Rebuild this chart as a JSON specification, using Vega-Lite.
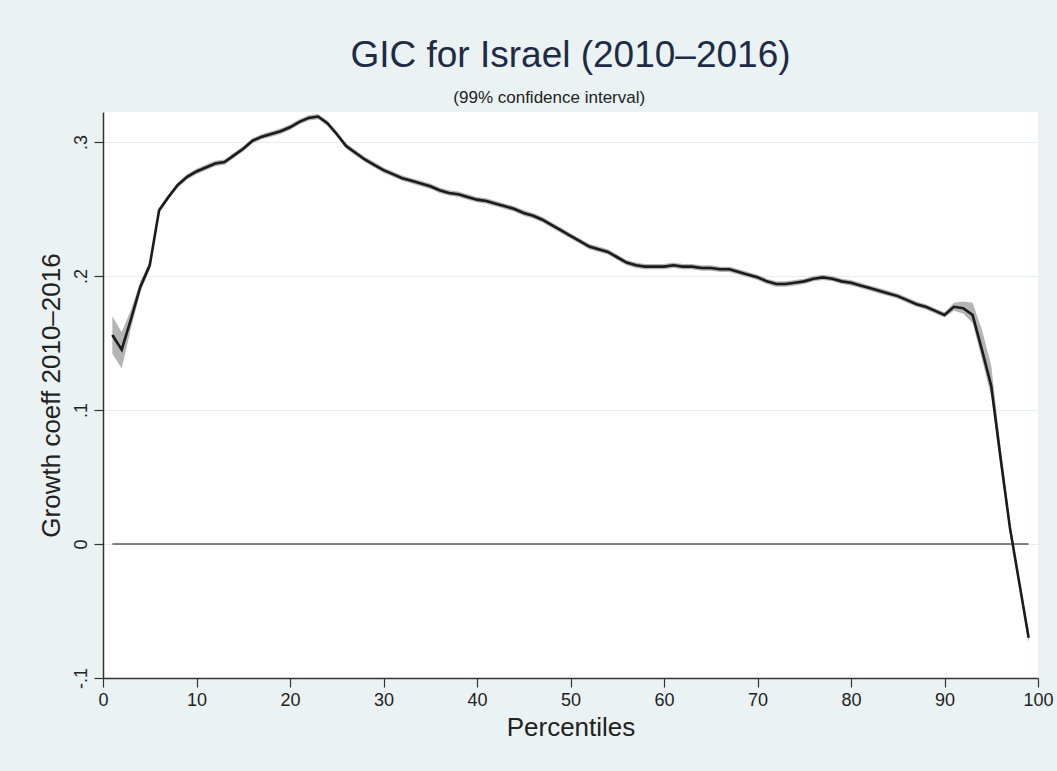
{
  "$schema": "https://vega.github.io/schema/vega-lite/v6.json",
  "width": 935,
  "height": 566,
  "autosize": "none",
  "padding": {"left": 103, "top": 112, "right": 19, "bottom": 93},
  "background": "#eaf2f3",
  "view": {"fill": "white", "stroke": null},
  "config": {"font": "Liberation Sans"},
  "title": {
    "text": "GIC for Israel (2010–2016)",
    "subtitle": "(99% confidence interval)\u00a0\u00a0\u00a0\u00a0\u00a0\u00a0\u00a0\u00a0\u00a0\u200d",
    "anchor": "middle",
    "font": "Liberation Sans",
    "fontSize": 37,
    "fontWeight": "normal",
    "color": "#1e2b45",
    "subtitleFont": "Liberation Sans",
    "subtitleFontSize": 17,
    "subtitleColor": "#222222",
    "subtitlePadding": 15,
    "offset": 4
  },
  "data": {
    "values": [
      {"p": 1, "v": 0.156, "lo": 0.142, "hi": 0.170},
      {"p": 2, "v": 0.145, "lo": 0.131, "hi": 0.158},
      {"p": 3, "v": 0.168, "lo": 0.161, "hi": 0.175},
      {"p": 4, "v": 0.192, "lo": 0.188, "hi": 0.196},
      {"p": 5, "v": 0.208, "lo": 0.205, "hi": 0.211},
      {"p": 6, "v": 0.249, "lo": 0.247, "hi": 0.251},
      {"p": 7, "v": 0.259, "lo": 0.257, "hi": 0.261},
      {"p": 8, "v": 0.268, "lo": 0.266, "hi": 0.270},
      {"p": 9, "v": 0.274, "lo": 0.272, "hi": 0.276},
      {"p": 10, "v": 0.278, "lo": 0.276, "hi": 0.280},
      {"p": 11, "v": 0.281, "lo": 0.279, "hi": 0.283},
      {"p": 12, "v": 0.284, "lo": 0.282, "hi": 0.286},
      {"p": 13, "v": 0.285, "lo": 0.283, "hi": 0.287},
      {"p": 14, "v": 0.290, "lo": 0.288, "hi": 0.292},
      {"p": 15, "v": 0.295, "lo": 0.293, "hi": 0.297},
      {"p": 16, "v": 0.301, "lo": 0.299, "hi": 0.303},
      {"p": 17, "v": 0.304, "lo": 0.302, "hi": 0.306},
      {"p": 18, "v": 0.306, "lo": 0.304, "hi": 0.308},
      {"p": 19, "v": 0.308, "lo": 0.306, "hi": 0.310},
      {"p": 20, "v": 0.311, "lo": 0.309, "hi": 0.313},
      {"p": 21, "v": 0.315, "lo": 0.313, "hi": 0.317},
      {"p": 22, "v": 0.318, "lo": 0.316, "hi": 0.320},
      {"p": 23, "v": 0.319, "lo": 0.317, "hi": 0.321},
      {"p": 24, "v": 0.314, "lo": 0.312, "hi": 0.316},
      {"p": 25, "v": 0.306, "lo": 0.304, "hi": 0.308},
      {"p": 26, "v": 0.297, "lo": 0.295, "hi": 0.299},
      {"p": 27, "v": 0.292, "lo": 0.290, "hi": 0.294},
      {"p": 28, "v": 0.287, "lo": 0.285, "hi": 0.289},
      {"p": 29, "v": 0.283, "lo": 0.281, "hi": 0.285},
      {"p": 30, "v": 0.279, "lo": 0.277, "hi": 0.281},
      {"p": 31, "v": 0.276, "lo": 0.274, "hi": 0.278},
      {"p": 32, "v": 0.273, "lo": 0.271, "hi": 0.275},
      {"p": 33, "v": 0.271, "lo": 0.269, "hi": 0.273},
      {"p": 34, "v": 0.269, "lo": 0.267, "hi": 0.271},
      {"p": 35, "v": 0.267, "lo": 0.265, "hi": 0.269},
      {"p": 36, "v": 0.264, "lo": 0.262, "hi": 0.266},
      {"p": 37, "v": 0.262, "lo": 0.260, "hi": 0.264},
      {"p": 38, "v": 0.261, "lo": 0.259, "hi": 0.263},
      {"p": 39, "v": 0.259, "lo": 0.257, "hi": 0.261},
      {"p": 40, "v": 0.257, "lo": 0.255, "hi": 0.259},
      {"p": 41, "v": 0.256, "lo": 0.254, "hi": 0.258},
      {"p": 42, "v": 0.254, "lo": 0.252, "hi": 0.256},
      {"p": 43, "v": 0.252, "lo": 0.250, "hi": 0.254},
      {"p": 44, "v": 0.250, "lo": 0.248, "hi": 0.252},
      {"p": 45, "v": 0.247, "lo": 0.245, "hi": 0.249},
      {"p": 46, "v": 0.245, "lo": 0.243, "hi": 0.247},
      {"p": 47, "v": 0.242, "lo": 0.240, "hi": 0.244},
      {"p": 48, "v": 0.238, "lo": 0.236, "hi": 0.240},
      {"p": 49, "v": 0.234, "lo": 0.232, "hi": 0.236},
      {"p": 50, "v": 0.230, "lo": 0.228, "hi": 0.232},
      {"p": 51, "v": 0.226, "lo": 0.224, "hi": 0.228},
      {"p": 52, "v": 0.222, "lo": 0.220, "hi": 0.224},
      {"p": 53, "v": 0.220, "lo": 0.218, "hi": 0.222},
      {"p": 54, "v": 0.218, "lo": 0.216, "hi": 0.220},
      {"p": 55, "v": 0.214, "lo": 0.212, "hi": 0.216},
      {"p": 56, "v": 0.210, "lo": 0.208, "hi": 0.212},
      {"p": 57, "v": 0.208, "lo": 0.206, "hi": 0.210},
      {"p": 58, "v": 0.207, "lo": 0.205, "hi": 0.209},
      {"p": 59, "v": 0.207, "lo": 0.205, "hi": 0.209},
      {"p": 60, "v": 0.207, "lo": 0.205, "hi": 0.209},
      {"p": 61, "v": 0.208, "lo": 0.206, "hi": 0.210},
      {"p": 62, "v": 0.207, "lo": 0.205, "hi": 0.209},
      {"p": 63, "v": 0.207, "lo": 0.205, "hi": 0.209},
      {"p": 64, "v": 0.206, "lo": 0.204, "hi": 0.208},
      {"p": 65, "v": 0.206, "lo": 0.204, "hi": 0.208},
      {"p": 66, "v": 0.205, "lo": 0.203, "hi": 0.207},
      {"p": 67, "v": 0.205, "lo": 0.203, "hi": 0.207},
      {"p": 68, "v": 0.203, "lo": 0.201, "hi": 0.205},
      {"p": 69, "v": 0.201, "lo": 0.199, "hi": 0.203},
      {"p": 70, "v": 0.199, "lo": 0.197, "hi": 0.201},
      {"p": 71, "v": 0.196, "lo": 0.194, "hi": 0.198},
      {"p": 72, "v": 0.194, "lo": 0.192, "hi": 0.196},
      {"p": 73, "v": 0.194, "lo": 0.192, "hi": 0.196},
      {"p": 74, "v": 0.195, "lo": 0.193, "hi": 0.197},
      {"p": 75, "v": 0.196, "lo": 0.194, "hi": 0.198},
      {"p": 76, "v": 0.198, "lo": 0.196, "hi": 0.200},
      {"p": 77, "v": 0.199, "lo": 0.197, "hi": 0.201},
      {"p": 78, "v": 0.198, "lo": 0.196, "hi": 0.200},
      {"p": 79, "v": 0.196, "lo": 0.194, "hi": 0.198},
      {"p": 80, "v": 0.195, "lo": 0.193, "hi": 0.197},
      {"p": 81, "v": 0.193, "lo": 0.191, "hi": 0.195},
      {"p": 82, "v": 0.191, "lo": 0.189, "hi": 0.193},
      {"p": 83, "v": 0.189, "lo": 0.187, "hi": 0.191},
      {"p": 84, "v": 0.187, "lo": 0.185, "hi": 0.189},
      {"p": 85, "v": 0.185, "lo": 0.183, "hi": 0.187},
      {"p": 86, "v": 0.182, "lo": 0.180, "hi": 0.184},
      {"p": 87, "v": 0.179, "lo": 0.177, "hi": 0.181},
      {"p": 88, "v": 0.177, "lo": 0.175, "hi": 0.179},
      {"p": 89, "v": 0.174, "lo": 0.172, "hi": 0.176},
      {"p": 90, "v": 0.171, "lo": 0.169, "hi": 0.173},
      {"p": 91, "v": 0.177, "lo": 0.174, "hi": 0.180},
      {"p": 92, "v": 0.176, "lo": 0.172, "hi": 0.181},
      {"p": 93, "v": 0.171, "lo": 0.165, "hi": 0.180},
      {"p": 94, "v": 0.145, "lo": 0.138, "hi": 0.160},
      {"p": 95, "v": 0.118, "lo": 0.110, "hi": 0.133},
      {"p": 96, "v": 0.064, "lo": 0.058, "hi": 0.072},
      {"p": 97, "v": 0.012, "lo": 0.007, "hi": 0.017},
      {"p": 98, "v": -0.029, "lo": -0.033, "hi": -0.025},
      {"p": 99, "v": -0.070, "lo": -0.074, "hi": -0.066}
    ]
  },
  "encoding": {
    "x": {
      "field": "p",
      "type": "quantitative",
      "scale": {"domain": [0, 100], "nice": false},
      "axis": {
        "title": "Percentiles",
        "values": [0, 10, 20, 30, 40, 50, 60, 70, 80, 90, 100],
        "grid": false,
        "domainColor": "#333333",
        "domainWidth": 1.5,
        "tickColor": "#333333",
        "tickWidth": 1.2,
        "tickSize": 9,
        "labelFontSize": 18,
        "labelColor": "#222222",
        "labelPadding": 4,
        "labelFlush": false,
        "titleFontSize": 26,
        "titleFontWeight": "normal",
        "titleColor": "#222222",
        "titlePadding": 5
      }
    },
    "y": {
      "type": "quantitative",
      "scale": {"domain": [-0.1, 0.3224], "nice": false, "zero": false},
      "axis": {
        "title": "Growth coeff 2010–2016",
        "values": [-0.1, 0, 0.1, 0.2, 0.3],
        "labelExpr": "datum.value == 0 ? '0' : (datum.value < 0 ? '-' : '') + '.' + format(abs(datum.value) * 10, '.0f')",
        "labelAngle": 270,
        "grid": true,
        "gridColor": "#e6eef0",
        "gridWidth": 1,
        "domainColor": "#333333",
        "domainWidth": 1.5,
        "tickColor": "#333333",
        "tickWidth": 1.2,
        "tickSize": 9,
        "labelFontSize": 18,
        "labelColor": "#222222",
        "labelPadding": 4,
        "labelFlush": false,
        "titleFontSize": 26,
        "titleFontWeight": "normal",
        "titleColor": "#222222",
        "titlePadding": 8
      }
    }
  },
  "layer": [
    {
      "mark": {"type": "area", "color": "#b4b4b4", "opacity": 1},
      "encoding": {"y": {"field": "lo", "type": "quantitative"}, "y2": {"field": "hi"}}
    },
    {
      "mark": {"type": "line", "color": "#5a5a5a", "strokeWidth": 1.5},
      "encoding": {"y": {"datum": 0, "type": "quantitative"}}
    },
    {
      "mark": {"type": "line", "color": "#1b1b1b", "strokeWidth": 2.6},
      "encoding": {"y": {"field": "v", "type": "quantitative"}}
    }
  ]
}
